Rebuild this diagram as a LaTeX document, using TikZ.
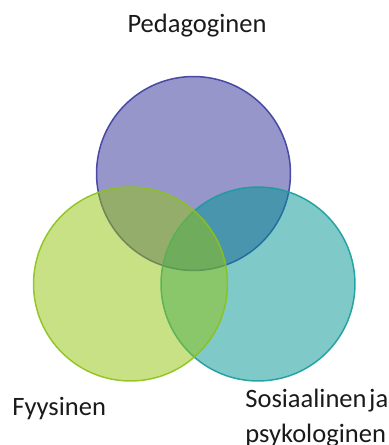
\documentclass[tikz,border=0pt]{standalone}
\usepackage{fontspec}
\setmainfont{Carlito}
\definecolor{ink}{HTML}{1A1A1A}
\definecolor{pedaline}{HTML}{3C3CA0}
\definecolor{pedafill}{HTML}{2E2E96}
\definecolor{fysline}{HTML}{8CC21A}
\definecolor{fysfill}{HTML}{94C40C}
\definecolor{sosline}{HTML}{1A9C9C}
\definecolor{sosfill}{HTML}{009494}
\newcommand{\venntext}{\fontsize{15.1}{19.4}\selectfont}
\tikzset{
 every node/.append style={font=\venntext,text=ink},
 ring/.style={circle,minimum size=3.88cm,inner sep=0pt,line width=.85pt,fill opacity=.5,draw opacity=.9},
 peda/.style={ring,draw=pedaline,fill=pedafill},
 fys/.style={ring,draw=fysline,fill=fysfill},
 sos/.style={ring,draw=sosline,fill=sosfill},
 caption/.style={inner sep=0pt},
}

\begin{document}
\begin{tikzpicture}[x=.02cm,y=-.02cm]

\useasboundingbox (0,0) rectangle (388,445);
\node[peda] (pedagoginen) at (193.5,173.5) {};
\node[sos] (sosiaalinen) at (258,284) {};
\node[fys] (fyysinen) at (130.5,284) {};
\node[caption,anchor=base] (pedatext) at (197,33) {Pedagoginen};
\node[caption,anchor=base west] (fystext) at (12,415) {Fyysinen};
\node[caption,anchor=base west,align=left] (sostext) at (245,442) {Sosiaalinen\hspace{1.5pt}ja\\psykologinen};

\end{tikzpicture}
\end{document}
